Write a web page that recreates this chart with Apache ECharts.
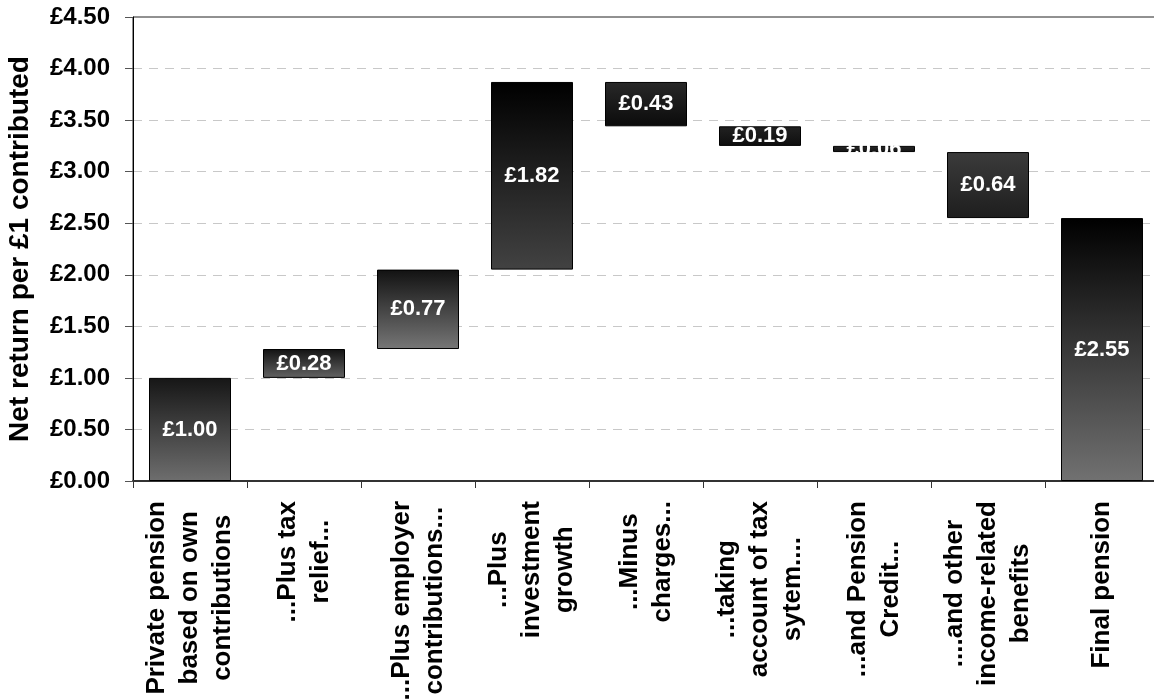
<!DOCTYPE html>
<html>
<head>
<meta charset="utf-8">
<title>Net return per £1 contributed</title>
<script src="https://cdn.jsdelivr.net/npm/echarts@6/dist/echarts.min.js"></script>
<style>
  html, body { margin: 0; padding: 0; background: #ffffff; }
  #chart { width: 1154px; height: 700px; }
</style>
</head>
<body>
<div id="chart"></div>
<script>
// Waterfall steps from own contributions to the final pension (£ per £1 contributed)
const categories = [
  'Private pension\nbased on own\ncontributions',
  '...Plus tax\nrelief...',
  '...Plus employer\ncontributions...',
  '...Plus\ninvestment\ngrowth',
  '...Minus\ncharges...',
  '...taking\naccount of tax\nsytem....',
  '...and Pension\nCredit...',
  '....and other\nincome-related\nbenefits',
  'Final pension'
];
const steps = [1.00, 0.28, 0.77, 1.82, -0.43, -0.19, -0.06, -0.64];
const finalValue = 2.55;

// Value-axis range
const yMin = 0;
const yMax = 4.5;
const yStep = 0.5;

// Top / bottom shade of each bar's vertical gradient
const barShades = [
  ['#161616', '#6e6e6e'],
  ['#121212', '#636363'],
  ['#121212', '#767676'],
  ['#000000', '#424242'],
  ['#282828', '#0b0b0b'],
  ['#222222', '#0e0e0e'],
  ['#262626', '#141414'],
  ['#3b3b3b', '#1e1e1e'],
  ['#000000', '#717171']
];

// Floating segments: invisible base + visible span
const bases = [];
const spans = [];
let running = 0;
steps.forEach(function (s) {
  if (s >= 0) {
    bases.push(+running.toFixed(2));
    spans.push(s);
    running += s;
  } else {
    running += s;
    bases.push(+running.toFixed(2));
    spans.push(-s);
  }
});
bases.push(0);
spans.push(finalValue);

const FONT = "'Liberation Sans', Arial, Helvetica, sans-serif";
const money = function (v) { return '£' + Number(v).toFixed(2); };

const visibleData = spans.map(function (v, i) {
  return {
    value: v,
    itemStyle: {
      color: {
        type: 'linear', x: 0, y: 0, x2: 0, y2: 1,
        colorStops: [
          { offset: 0, color: barShades[i][0] },
          { offset: 1, color: barShades[i][1] }
        ]
      }
    }
  };
});

const chart = echarts.init(document.getElementById('chart'), null, { renderer: 'canvas' });

chart.setOption({
  animation: false,
  backgroundColor: '#ffffff',
  grid: {
    left: 133, right: -5, top: 17, bottom: 219,
    containLabel: false,
    outerBoundsMode: 'none',
    show: true, borderColor: '#222222', borderWidth: 1, backgroundColor: 'transparent'
  },
  xAxis: {
    type: 'category',
    data: categories,
    axisLine: { show: true, lineStyle: { color: '#333333', width: 2 } },
    axisTick: { show: true, alignWithLabel: false, length: 7, lineStyle: { color: '#333333', width: 1 } },
    axisLabel: {
      interval: 0,
      rotate: 90,
      margin: 20,
      formatter: function (v) {
        return v.split('\n').map(function (line) { return '{c|' + line + '}'; }).join('\n');
      },
      rich: {
        c: {
          align: 'center',
          fontFamily: FONT,
          fontWeight: 'bold',
          fontSize: 26,
          lineHeight: 33,
          color: '#000000'
        }
      }
    },
    splitLine: { show: false }
  },
  yAxis: {
    type: 'value',
    min: yMin,
    max: yMax,
    interval: yStep,
    name: 'Net return per £1 contributed',
    nameLocation: 'middle',
    nameGap: 99,
    nameRotate: 90,
    nameTextStyle: { fontFamily: FONT, fontWeight: 'bold', fontSize: 28, color: '#000000' },
    axisLine: { show: true, lineStyle: { color: '#000000', width: 1 } },
    axisTick: { show: true, length: 8, lineStyle: { color: '#555555', width: 1 } },
    axisLabel: {
      margin: 23,
      formatter: money,
      fontFamily: FONT,
      fontWeight: 'bold',
      fontSize: 24,
      color: '#000000'
    },
    splitLine: {
      show: true,
      showMinLine: false,
      showMaxLine: false,
      lineStyle: { color: '#c8c8c8', type: [9, 7], width: 1 }
    }
  },
  series: [
    {
      name: 'base',
      type: 'bar',
      stack: 'fall',
      data: bases,
      barWidth: 82,
      itemStyle: { color: 'transparent', borderColor: 'transparent' },
      emphasis: { disabled: true },
      silent: true
    },
    {
      name: 'change',
      type: 'bar',
      stack: 'fall',
      data: visibleData,
      barWidth: 82,
      itemStyle: { borderColor: '#000000', borderWidth: 1 },
      label: {
        show: true,
        position: 'inside',
        formatter: function (p) { return money(p.value); },
        fontFamily: FONT,
        fontWeight: 'bold',
        fontSize: 22,
        color: '#ffffff'
      }
    }
  ]
});
</script>
</body>
</html>
